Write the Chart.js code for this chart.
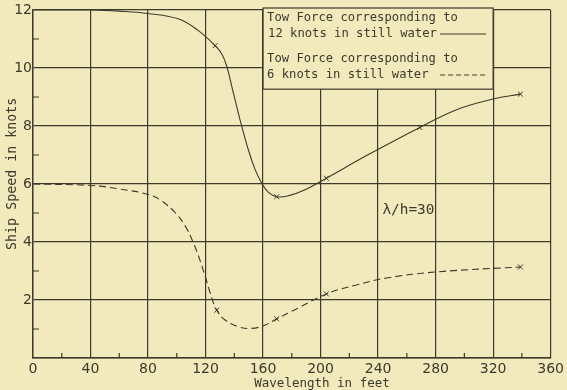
<!DOCTYPE html>
<html>
<head>
<meta charset="utf-8">
<script src="https://cdn.jsdelivr.net/npm/chart.js@4/dist/chart.umd.min.js"></script>
<style>
body { margin: 0; background: #f2eabc; }
canvas { display: block; }
</style>
</head>
<body>
<canvas id="towChart" width="567" height="390"></canvas>
<script>
// ticks
var xTickValues = [0, 40, 80, 120, 160, 200, 240, 280, 320, 360];
var yTickValues = [0, 2, 4, 6, 8, 10, 12];

// tow force for 12 knots in still water (solid curve)
var curve12X = [0, 40, 60, 80, 101.4, 115.2, 126.7, 131.3, 134.7, 139.3, 143.9, 149.7, 154.3, 158.9, 163.4, 169.5, 178, 190, 204, 232, 269, 295, 320, 339];
var curve12Y = [12.0, 12.0, 11.96, 11.88, 11.69, 11.28, 10.77, 10.48, 10.07, 9.15, 8.23, 7.19, 6.52, 6.04, 5.73, 5.56, 5.6, 5.82, 6.2, 6.98, 7.95, 8.57, 8.93, 9.1];
var marks12X = [126.7, 169.5, 204, 269, 339];
var marks12Y = [10.77, 5.56, 6.2, 7.95, 9.1];

// tow force for 6 knots in still water (dashed curve)
var curve6X = [0, 40, 60, 80.7, 89.9, 99.1, 106, 110.6, 115.2, 119.8, 123.2, 127.8, 133.6, 142.8, 152, 161.2, 169.5, 184, 204, 225, 246, 281, 339];
var curve6Y = [6.0, 5.95, 5.83, 5.63, 5.4, 5.0, 4.54, 4.08, 3.5, 2.81, 2.25, 1.65, 1.31, 1.08, 1.02, 1.13, 1.35, 1.71, 2.21, 2.52, 2.76, 2.97, 3.14];
var marks6X = [127.8, 169.5, 204, 339];
var marks6Y = [1.65, 1.35, 2.21, 3.14];

var ink = '#3c3a2b';
var paper = '#f2eabc';
var font = '"DejaVu Sans", sans-serif';
var letterFont = '"DejaVu Sans Mono", monospace';

function toPoints(xs, ys) {
    return xs.map(function (x, i) { return { x: x, y: ys[i] }; });
}

var paperPlugin = {
    id: 'paper',
    beforeDraw: function (chart) {
        var c = chart.ctx;
        c.save();
        c.fillStyle = paper;
        c.fillRect(0, 0, chart.width, chart.height);
        c.restore();
    }
};

var notesPlugin = {
    id: 'notes',
    afterDraw: function (chart) {
        var c = chart.ctx;
        var xs = chart.scales.x, ys = chart.scales.y, a = chart.chartArea;
        c.save();
        c.strokeStyle = ink;
        c.fillStyle = ink;
        c.lineWidth = 1.2;

        // minor ticks inside the frame
        c.beginPath();
        for (var v = 1; v < 12; v += 2) {
            var py = ys.getPixelForValue(v);
            c.moveTo(a.left, py);
            c.lineTo(a.left + 6, py);
        }
        for (var u = 20; u < 360; u += 40) {
            var px = xs.getPixelForValue(u);
            c.moveTo(px, a.bottom);
            c.lineTo(px, a.bottom - 5);
        }
        c.stroke();

        // legend box
        var left = xs.getPixelForValue(160), right = xs.getPixelForValue(320);
        var top = a.top - 2, bottom = ys.getPixelForValue(9.27);
        c.fillStyle = paper;
        c.fillRect(left, top, right - left, bottom - top);
        c.strokeRect(left, top, right - left, bottom - top);
        c.fillStyle = ink;
        c.font = '12.2px ' + letterFont;
        c.textBaseline = 'middle';
        c.textAlign = 'left';
        c.fillText('Tow Force corresponding to', left + 4, top + 10);
        c.fillText('12 knots in still water', left + 5, top + 26);
        c.fillText('Tow Force corresponding to', left + 4, top + 51);
        c.fillText('6 knots in still water', left + 4, top + 67);
        c.lineWidth = 1.1;
        c.beginPath();
        c.moveTo(right - 53, top + 26);
        c.lineTo(right - 7, top + 26);
        c.stroke();
        c.setLineDash([5, 3]);
        c.beginPath();
        c.moveTo(right - 53, top + 67);
        c.lineTo(right - 7, top + 67);
        c.stroke();
        c.setLineDash([]);

        // ratio note
        c.font = '14.4px ' + letterFont;
        c.fillText('\u03bb/h=30', xs.getPixelForValue(243), ys.getPixelForValue(5.1));

        // axis titles
        c.textAlign = 'center';
        c.font = '12.5px ' + letterFont;
        c.fillText('Wavelength in feet', xs.getPixelForValue(201), 384);
        c.translate(13, ys.getPixelForValue(6.35));
        c.rotate(-Math.PI / 2);
        c.font = '13.3px ' + letterFont;
        c.fillText('Ship Speed in knots', 0, 0);
        c.restore();
    }
};

var ctx = document.getElementById('towChart').getContext('2d');
var towChart = new Chart(ctx, {
    type: 'scatter',
    data: {
        datasets: [{
            label: '12 knots',
            data: toPoints(curve12X, curve12Y),
            showLine: true,
            borderColor: ink,
            borderWidth: 1.1,
            pointRadius: 0,
            tension: 0.4
        }, {
            label: '12 knots points',
            data: toPoints(marks12X, marks12Y),
            showLine: false,
            pointStyle: 'crossRot',
            pointRadius: 3.5,
            borderColor: ink,
            borderWidth: 1
        }, {
            label: '6 knots',
            data: toPoints(curve6X, curve6Y),
            showLine: true,
            borderColor: ink,
            borderWidth: 1.1,
            borderDash: [7, 4],
            pointRadius: 0,
            tension: 0.4
        }, {
            label: '6 knots points',
            data: toPoints(marks6X, marks6Y),
            showLine: false,
            pointStyle: 'crossRot',
            pointRadius: 3.5,
            borderColor: ink,
            borderWidth: 1
        }]
    },
    options: {
        responsive: false,
        animation: false,
        layout: { padding: { top: 10, right: 12, left: 0, bottom: 0 } },
        plugins: {
            legend: { display: false },
            tooltip: { enabled: false }
        },
        scales: {
            x: {
                type: 'linear',
                min: 0,
                max: 360,
                afterBuildTicks: function (s) { s.ticks = xTickValues.map(function (v) { return { value: v }; }); },
                afterFit: function (s) { s.height = 32; },
                ticks: { color: ink, font: { family: font, size: 14 }, padding: 3, maxRotation: 0, autoSkip: false },
                grid: { color: ink, lineWidth: 1.2, drawTicks: false },
                border: { color: ink, width: 1.4 }
            },
            y: {
                min: 0,
                max: 12,
                afterBuildTicks: function (s) { s.ticks = yTickValues.map(function (v) { return { value: v }; }); },
                afterFit: function (s) { s.width = 33; },
                ticks: {
                    color: ink,
                    font: { family: font, size: 14 },
                    padding: 1,
                    callback: function (v) { return v === 0 ? '' : v; }
                },
                grid: { color: ink, lineWidth: 1.2, drawTicks: false },
                border: { color: ink, width: 1.4 }
            }
        }
    },
    plugins: [paperPlugin, notesPlugin]
});
</script>
</body>
</html>
